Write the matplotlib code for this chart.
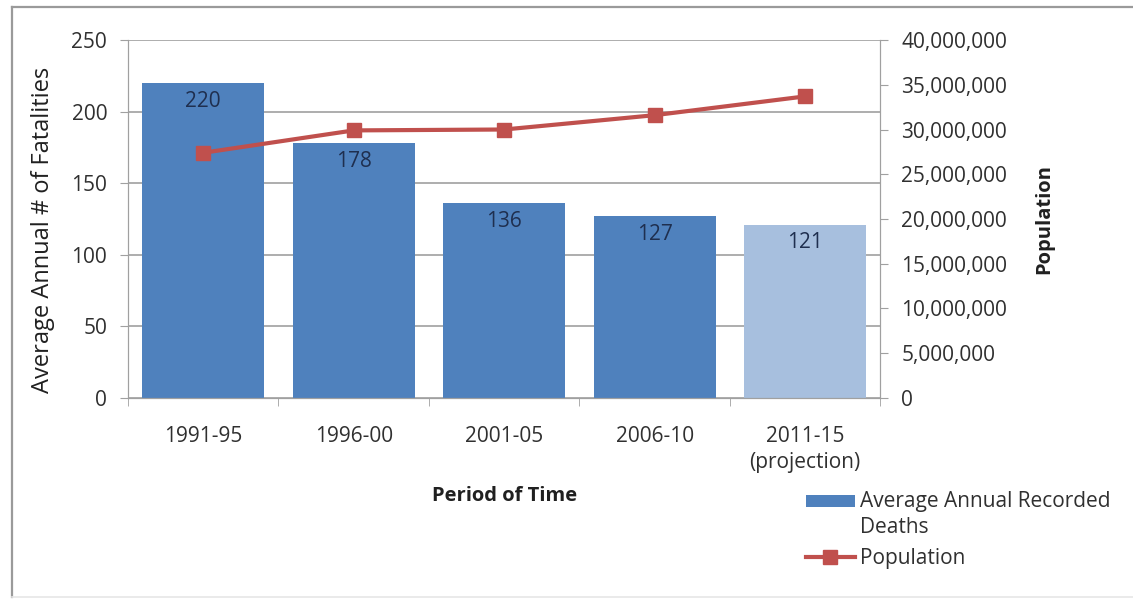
import numpy as np
import matplotlib.pyplot as plt
from matplotlib.patches import Rectangle
from matplotlib.lines import Line2D
from matplotlib.legend_handler import HandlerPatch
from matplotlib.ticker import FuncFormatter

periods = ["1991-95", "1996-00", "2001-05", "2006-10", "2011-15\n(projection)"]
deaths = [220, 178, 136, 127, 121]
population = [27400000, 29900000, 30000000, 31600000, 33700000]
projected = [False, False, False, False, True]

plt.rcParams['font.family'] = ['Open Sans', 'DejaVu Sans']
FS = 15

fig = plt.figure(figsize=(11.33, 5.99), dpi=100)
# outer chart frame (cropped on the right)
fig.add_artist(Line2D([0.0106, 0.0106], [0.003, 0.988], transform=fig.transFigure,
                      color='#9a9a9a', linewidth=1.6))
fig.add_artist(Line2D([0.0106, 1.0], [0.988, 0.988], transform=fig.transFigure,
                      color='#9a9a9a', linewidth=1.6))
fig.add_artist(Line2D([0.0106, 1.0], [0.004, 0.004], transform=fig.transFigure,
                      color='#e6e6e6', linewidth=1.2))

ax = fig.add_axes([0.113, 0.3356, 0.664, 0.5976])
ax2 = ax.twinx()

x = np.arange(len(periods))
colors = ['#a7bfde' if p else '#4f81bd' for p in projected]
bars = ax.bar(x, deaths, width=0.81, color=colors, zorder=2)
for xi, d in zip(x, deaths):
    ax.annotate(str(d), (xi, d), xytext=(0, -13), textcoords='offset points',
                ha='center', va='center', fontsize=FS, color='#1f2f4f', zorder=3)

ax.set_xlim(-0.5, len(periods) - 0.5)
ax.set_ylim(0, 250)
ax.set_yticks(range(0, 251, 50))
ax.yaxis.grid(True, color='#a0a0a0', linewidth=1.2)
ax.set_axisbelow(True)
ax.set_xticks(x)
ax.set_xticklabels(periods, fontsize=FS, color='#303030', linespacing=1.35)
ax.set_xticks(np.arange(-0.5, len(periods)), minor=True)
ax.tick_params(axis='x', which='major', length=0, pad=20)
ax.tick_params(axis='x', which='minor', length=6, color='#a0a0a0')
ax.tick_params(axis='y', labelsize=FS, labelcolor='#303030', color='#a0a0a0', length=6, pad=9)
for s in ['top']:
    ax.spines[s].set_visible(False)
    ax2.spines[s].set_visible(False)
for s in ['left', 'bottom', 'right']:
    ax.spines[s].set_color('#a0a0a0')
    ax2.spines[s].set_color('#a0a0a0')

ax.set_ylabel('Average Annual # of Fatalities', fontsize=17, color='#202020')
ax.yaxis.set_label_coords(-0.097, 0.47)
ax.set_xlabel('Period of Time', fontsize=14.5, fontweight='bold', color='#202020')
ax.xaxis.set_label_coords(0.5, -0.245)

line, = ax2.plot(x, population, color='#c0504d', linewidth=3, marker='s', markersize=10.5,
                 markerfacecolor='#c0504d', markeredgecolor='#c0504d', zorder=4)
ax2.set_ylim(0, 40000000)
ax2.set_yticks(range(0, 40000001, 5000000))
ax2.yaxis.set_major_formatter(FuncFormatter(lambda v, p: f"{int(v):,}"))
ax2.tick_params(axis='y', labelsize=FS, labelcolor='#303030', color='#a0a0a0', length=6, pad=9)
ax2.set_ylabel('Population', fontsize=14.5, fontweight='bold', color='#202020')
ax2.yaxis.set_label_coords(1.205, 0.5)


def top_patch(legend, orig_handle, xdescent, ydescent, width, height, fontsize):
    # keep the swatch next to the first line of a two-line label
    return Rectangle((-xdescent, -ydescent + fontsize * 0.72), width, height * 0.85)


fig.legend([bars[0], line], ['Average Annual Recorded\nDeaths', 'Population'],
           loc='upper left', bbox_to_anchor=(0.6945, 0.212), frameon=False,
           fontsize=FS, handlelength=2.35, handletextpad=0.25, labelspacing=0.5,
           handler_map={bars[0]: HandlerPatch(patch_func=top_patch)})
for t in fig.legends[0].get_texts():
    t.set_color('#303030')
    t.set_linespacing(1.3)

fig.savefig('out.png', dpi=100)
